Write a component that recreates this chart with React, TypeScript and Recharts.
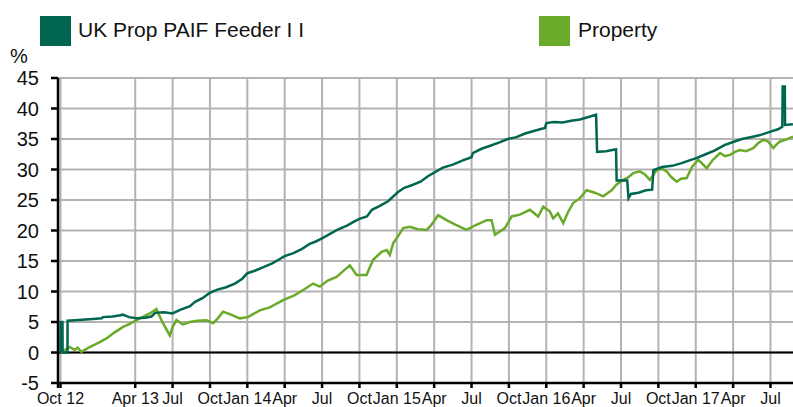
import React from "react";
import {
  CartesianGrid,
  Line,
  LineChart,
  ReferenceLine,
  XAxis,
  YAxis,
} from "recharts";

// months counted from Oct 2012
const fundMonths = [
  0, 0.01, 0.16, 0.17, 0.56, 0.57, 1.2, 2.0, 2.6, 3.3, 3.4, 4.2, 4.8, 5.0, 5.5,
  6.1, 6.8, 7.3, 7.6, 8.3, 9.0, 9.6, 10.4, 10.8, 11.4, 12.0, 12.6, 13.3, 14.0,
  14.6, 15.0, 15.6, 16.3, 17.0, 17.5, 18.0, 18.7, 19.4, 20.0, 20.5, 21.0, 21.6,
  22.3, 23.0, 23.6, 24.0, 24.6, 25.0, 25.6, 26.3, 27.1, 27.6, 28.3, 28.9, 29.5,
  30.1, 30.7, 31.5, 32.3, 33.0, 33.1, 33.8, 34.5, 35.3, 35.9, 36.6, 37.3, 38.0,
  38.5, 38.9, 39.0, 39.6, 40.3, 41.0, 41.7, 42.4, 43.0, 43.08, 43.8, 44.6,
  44.65, 45.5, 45.6, 45.8, 46.4, 47.0, 47.5, 47.6, 48.3, 49.1, 49.8, 50.5, 51.1,
  51.8, 52.5, 53.3, 54.0, 54.7, 55.4, 56.1, 57.0, 57.6, 57.95, 57.98, 58.15,
  58.17, 58.8,
];
const fundValues = [
  0, 5.0, 5.0, 0, 0, 5.2, 5.3, 5.4, 5.5, 5.6, 5.8, 5.9, 6.1, 6.2, 5.8, 5.6, 5.7,
  5.9, 6.5, 6.6, 6.4, 7.0, 7.6, 8.3, 8.9, 9.8, 10.3, 10.7, 11.3, 12.1, 13.0,
  13.4, 14.0, 14.6, 15.2, 15.8, 16.3, 17.0, 17.8, 18.2, 18.7, 19.4, 20.2, 20.8,
  21.5, 21.9, 22.3, 23.4, 24.0, 24.8, 26.3, 27.0, 27.5, 28.0, 28.9, 29.6, 30.3,
  30.8, 31.5, 32.0, 32.7, 33.4, 33.9, 34.5, 35.0, 35.3, 35.9, 36.3, 36.6, 36.8,
  37.6, 37.8, 37.7, 38.0, 38.2, 38.6, 39.0, 32.9, 33.0, 33.3, 28.2, 28.2, 25.3,
  26.0, 26.2, 26.6, 26.7, 29.9, 30.4, 30.6, 31.0, 31.5, 31.9, 32.5, 33.1, 34.0,
  34.5, 35.0, 35.3, 35.6, 36.2, 36.6, 37.0, 43.6, 43.6, 37.3, 37.4,
];

const propMonths = [
  0, 0.34, 0.74, 1.14, 1.38, 1.68, 2.35, 3.15, 3.69, 4.35, 5.02, 5.56, 6.1,
  6.76, 7.17, 7.7, 8.13, 8.45, 8.77, 9.01, 9.31, 9.82, 10.38, 11.0, 11.72,
  12.25, 12.63, 13.05, 13.59, 14.39, 15.04, 16.0, 16.8, 17.87, 18.81, 19.61,
  20.28, 20.82, 21.46, 22.16, 22.67, 23.23, 23.77, 24.57, 25.1, 25.78, 26.2,
  26.44, 26.71, 27.08, 27.51, 28.05, 28.69, 29.39, 29.73, 30.32, 30.99, 31.66,
  32.6, 33.35, 34.21, 34.61, 34.88, 35.68, 36.22, 36.88, 37.69, 38.35, 38.76,
  39.29, 39.56, 39.94, 40.36, 40.74, 41.16, 41.7, 42.24, 42.9, 43.57, 44.24,
  44.67, 45.18, 45.56, 45.98, 46.52, 46.92, 47.32, 47.86, 48.29, 48.66, 49.01,
  49.47, 49.82, 50.27, 50.7, 51.2, 51.5, 51.88, 52.38, 52.95, 53.35, 53.75,
  54.15, 54.55, 55.03, 55.62, 56.0, 56.43, 56.8, 57.23, 57.53, 57.77, 58.25,
  58.8,
];
const propValues = [
  0, 0.4, 0.9, 0.4, 0.8, 0.1, 0.9, 1.7, 2.3, 3.3, 4.2, 4.7, 5.3, 6.0, 6.4, 7.1,
  5.2, 4.0, 2.8, 4.2, 5.3, 4.6, 5.0, 5.2, 5.3, 4.8, 5.6, 6.7, 6.3, 5.6, 5.8, 6.9,
  7.4, 8.6, 9.4, 10.4, 11.3, 10.8, 11.8, 12.4, 13.3, 14.3, 12.7, 12.7, 15.2,
  16.5, 16.8, 16.0, 17.9, 19.0, 20.4, 20.6, 20.2, 20.1, 20.8, 22.5, 21.7, 21.0,
  20.1, 20.9, 21.7, 21.7, 19.3, 20.4, 22.3, 22.6, 23.4, 22.3, 23.9, 23.1, 22.0,
  22.8, 21.2, 23.0, 24.5, 25.3, 26.6, 26.2, 25.6, 26.6, 27.6, 28.3, 28.7, 29.4,
  29.7, 29.2, 28.3, 29.9, 30.1, 29.7, 28.8, 28.0, 28.5, 28.6, 30.4, 31.6, 31.0,
  30.2, 31.6, 32.7, 32.2, 32.4, 32.9, 33.2, 33.0, 33.5, 34.3, 34.9, 34.6, 33.5,
  34.2, 34.6, 34.9, 35.4,
];

const xTicks = [
  -0.2, 0, 6, 9, 12, 15, 18, 21, 24, 27, 30, 33, 36, 39, 42, 45, 48, 51, 54, 57,
];
const xLabels = [
  "", "Oct 12", "Apr 13", "Jul", "Oct", "Jan 14", "Apr", "Jul", "Oct", "Jan 15",
  "Apr", "Jul", "Oct", "Jan 16", "Apr", "Jul", "Oct", "Jan 17", "Apr", "Jul",
];
const yTicks = [-5, 0, 5, 10, 15, 20, 25, 30, 35, 40, 45];

const fundData = fundMonths.map((t, i) => ({ t, v: fundValues[i] }));
const propData = propMonths.map((t, i) => ({ t, v: propValues[i] }));

const FUND = "#00664f";
const PROP = "#6aaa2a";
const FONT = "'Liberation Sans', Arial, sans-serif";

export default function App() {
  return (
    <div style={{ position: "relative", width: 800, height: 420, fontFamily: FONT }}>
      <style>{"body{margin:0;overflow:hidden}"}</style>

      {/* legend */}
      <div style={{ position: "absolute", left: 40, top: 16, width: 31, height: 30, background: FUND }} />
      <div style={{ position: "absolute", left: 78, top: 17, fontSize: 21, lineHeight: "26px", color: "#111" }}>
        UK Prop PAIF Feeder I I
      </div>
      <div style={{ position: "absolute", left: 539, top: 16, width: 31, height: 30, background: PROP }} />
      <div style={{ position: "absolute", left: 578, top: 17, fontSize: 21, lineHeight: "26px", color: "#111" }}>
        Property
      </div>
      <div style={{ position: "absolute", left: 10, top: 45, fontSize: 20, lineHeight: "22px", color: "#111" }}>
        %
      </div>

      <div style={{ position: "absolute", left: 0, top: 0 }}>
        <LineChart width={800} height={420} margin={{ top: 78, right: 0, bottom: 7, left: 0 }}>
          <CartesianGrid stroke="#b3b3b3" strokeWidth={2} />
          <XAxis
            type="number"
            dataKey="t"
            domain={[-0.2, 59.37]}
            ticks={xTicks}
            interval={0}
            tickFormatter={(v) => xLabels[xTicks.indexOf(v)] ?? ""}
            height={30}
            tickSize={5}
            tickMargin={5}
            stroke="#000"
            strokeWidth={2.5}
            tick={{ fill: "#111", fontSize: 16, fontFamily: FONT }}
            allowDataOverflow
          />
          <YAxis
            type="number"
            domain={[-5, 45]}
            ticks={yTicks}
            interval={0}
            width={58}
            tickSize={7}
            tickMargin={12}
            stroke="#000"
            strokeWidth={2.5}
            tick={{ fill: "#111", fontSize: 20, fontFamily: FONT }}
          />
          <ReferenceLine y={0} stroke="#000" strokeWidth={2} />
          <Line
            data={propData}
            dataKey="v"
            type="linear"
            stroke={PROP}
            strokeWidth={2.5}
            dot={false}
            isAnimationActive={false}
          />
          <Line
            data={fundData}
            dataKey="v"
            type="linear"
            stroke={FUND}
            strokeWidth={2.5}
            dot={false}
            isAnimationActive={false}
          />
        </LineChart>
      </div>
    </div>
  );
}
